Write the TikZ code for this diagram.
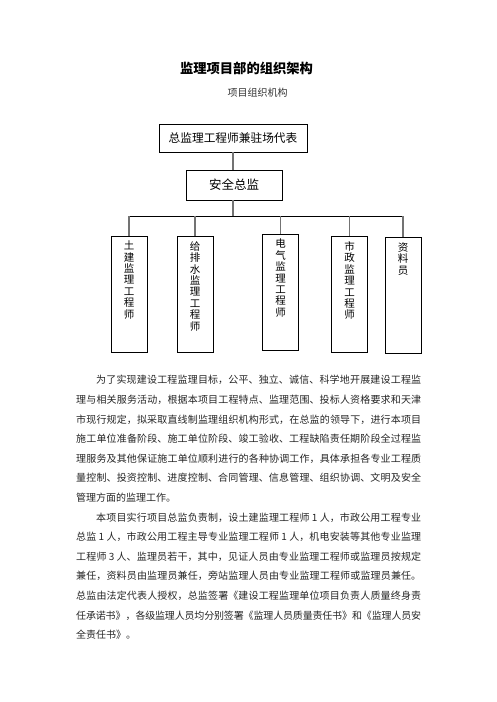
\documentclass[tikz,border=0pt]{standalone}
\usepackage{fontspec}
\setmainfont{Noto Sans CJK SC}
\XeTeXlinebreaklocale "zh"
\XeTeXlinebreakskip=0pt plus 3pt minus 0.6pt
\newcommand\vtxt[1]{\parbox[t][106pt][t]{14pt}{\centering\fontsize{10.5}{11.4}\selectfont #1}}
\begin{document}
\begin{tikzpicture}[x=1pt,y=-1pt,
  hbox/.style={draw=black, line width=0.8pt, inner sep=0pt},
  vbox/.style={draw=black, line width=0.8pt, inner xsep=11pt, inner ysep=5pt, minimum width=36pt, minimum height=116pt},
  link/.style={draw=black!55, line width=1.5pt},
  bar/.style={draw=black, line width=0.8pt}]
\useasboundingbox[fill=white] (0,0) rectangle (496,702);

\node[font=\fontsize{13.3}{16}\selectfont\bfseries] (title) at (246.5,68) {监理项目部的组织架构};
\node[font=\fontsize{10}{12}\selectfont, text=black!80] (sub) at (257.5,93) {项目组织机构};

\node[hbox, minimum width=148pt, minimum height=28pt, font=\fontsize{11.7}{14}\selectfont] (top) at (233,138) {总监理工程师兼驻场代表};
\node[hbox, minimum width=96pt, minimum height=30pt, font=\fontsize{12.5}{14}\selectfont] (safe) at (234,185) {安全总监};

\node[vbox] (a) at (129,294) {\vtxt{土\\建\\监\\理\\工\\程\\师}};
\node[vbox] (b) at (195,294.5) {\vtxt{给\\排\\水\\监\\理\\工\\程\\师}};
\node[vbox] (c) at (280.5,292) {\vtxt{电\\气\\监\\理\\工\\程\\师}};
\node[vbox] (d) at (349.5,294.5) {\vtxt{市\\政\\监\\理\\工\\程\\师}};
\node[vbox] (e) at (403,295.5) {\vtxt{资\\料\\员}};

\coordinate (hub) at (233,216);
\draw[link] (top.south) -- (top.south |- safe.north);
\draw[link] (top.south |- safe.south) -- (hub);
\draw[bar] (a.north |- hub) -- (e.north |- hub);
\foreach \n in {a,b,c,d,e} \draw[link] (\n.north |- hub) -- (\n.north);

\node[anchor=base west, text width=345pt, align=justify, inner sep=0pt,
      font=\fontsize{10}{19.6}\selectfont, text=black!85] (body) at (76,383.8) {%
\hspace*{20pt}为了实现建设工程监理目标，公平、独立、诚信、科学地开展建设工程监\linebreak
理与相关服务活动，根据本项目工程特点、监理范围、投标人资格要求和天津\linebreak
市现行规定，拟采取直线制监理组织机构形式，在总监的领导下，进行本项目\linebreak
施工单位准备阶段、施工单位阶段、竣工验收、工程缺陷责任期阶段全过程监\linebreak
理服务及其他保证施工单位顺利进行的各种协调工作，具体承担各专业工程质\linebreak
量控制、投资控制、进度控制、合同管理、信息管理、组织协调、文明及安全\linebreak
管理方面的监理工作。\par
\hspace*{20pt}本项目实行项目总监负责制，设土建监理工程师 1 人，市政公用工程专业\linebreak
总监 1 人，市政公用工程主导专业监理工程师 1 人，机电安装等其他专业监理\linebreak
工程师 3 人、监理员若干，其中，见证人员由专业监理工程师或监理员按规定\linebreak
兼任，资料员由监理员兼任，旁站监理人员由专业监理工程师或监理员兼任。\linebreak
总监由法定代表人授权，总监签署《建设工程监理单位项目负责人质量终身责\linebreak
任承诺书》，各级监理人员均分别签署《监理人员质量责任书》和《监理人员安\linebreak
全责任书》。};
\end{tikzpicture}
\end{document}
